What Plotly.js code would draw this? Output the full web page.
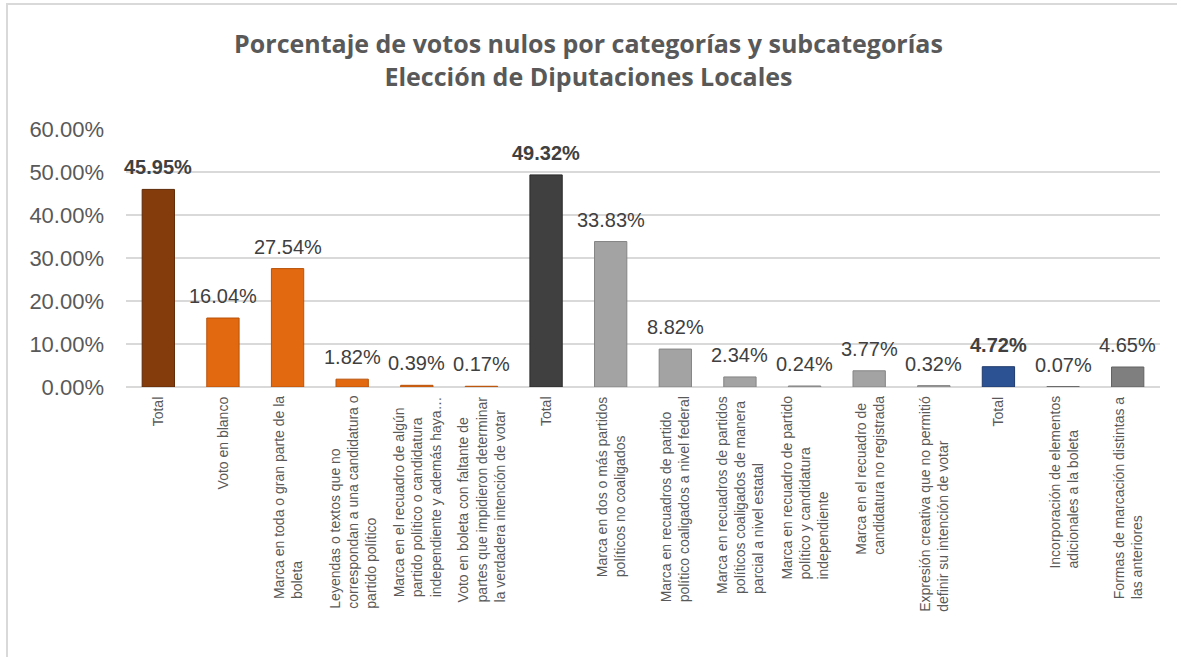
<!DOCTYPE html>
<html>
<head>
<meta charset="utf-8">
<script src="https://cdn.plot.ly/plotly-3.0.1.min.js"></script>
<style>
  html, body { margin: 0; padding: 0; background: #ffffff; }
  #wrap { position: relative; width: 1177px; height: 657px; }
  #chart { width: 1177px; height: 657px; }
  #frame { position: absolute; left: 6px; top: 3px; width: 1171px; height: 654px;
           border-left: 2px solid #d9d9d9; border-top: 2px solid #d9d9d9;
           pointer-events: none; box-sizing: border-box; }
</style>
</head>
<body>
<div id="wrap">
  <div id="chart"></div>
  <div id="frame"></div>
</div>
<script>
// ---- data ----
const categories = [
  "Total",
  "Voto en blanco",
  "Marca en toda o gran parte de la<br>boleta",
  "Leyendas o textos que no<br>correspondan a una candidatura o<br>partido político",
  "Marca en el recuadro de algún<br>partido político o candidatura<br>independiente y además haya…",
  "Voto en boleta con faltante de<br>partes que impidieron determinar<br>la verdadera intención de votar",
  "Total",
  "Marca en dos o más partidos<br>políticos no coaligados",
  "Marca en recuadros de partido<br>político coaligados a nivel federal",
  "Marca en recuadros de partidos<br>políticos coaligados de manera<br>parcial a nivel estatal",
  "Marca en recuadro de partido<br>político y candidatura<br>independiente",
  "Marca en el recuadro de<br>candidatura no registrada",
  "Expresión creativa que no permitió<br>definir su intención de votar",
  "Total",
  "Incorporación de elementos<br>adicionales a la boleta",
  "Formas de marcación distintas a<br>las anteriores"
];
const values = [45.95, 16.04, 27.54, 1.82, 0.39, 0.17, 49.32, 33.83, 8.82, 2.34, 0.24, 3.77, 0.32, 4.72, 0.07, 4.65];
const isTotal = [true, false, false, false, false, false, true, false, false, false, false, false, false, true, false, false];
const barColors = ["#843C0C", "#E2690F", "#E2690F", "#E2690F", "#E2690F", "#E2690F",
                   "#404040", "#A3A3A3", "#A3A3A3", "#A3A3A3", "#A3A3A3", "#A3A3A3", "#A3A3A3",
                   "#2D5293", "#7F7F7F", "#7F7F7F"];
const lineColors = ["#5E2a08", "#B8520A", "#B8520A", "#B8520A", "#B8520A", "#B8520A",
                    "#2a2a2a", "#858585", "#858585", "#858585", "#858585", "#858585", "#858585",
                    "#1F3A6B", "#636363", "#636363"];
const yTicks = [0, 10, 20, 30, 40, 50, 60];
const titleLines = ["Porcentaje de votos nulos por categorías y subcategorías", "Elección de Diputaciones Locales"];

// ---- build ----
const xs = categories.map((c, i) => i);

const trace = {
  type: "bar",
  x: xs,
  y: values,
  width: 0.5,
  marker: { color: barColors, line: { color: lineColors, width: 1 } },
  hoverinfo: "skip"
};

const annotations = [];
categories.forEach((c, i) => {
  annotations.push({
    x: xs[i], xref: "x", y: 0, yref: "paper",
    text: c, showarrow: false, textangle: -90,
    xanchor: "center", yanchor: "top", yshift: -7, align: "left",
    font: { family: "Liberation Sans, Arial, sans-serif", size: 14, color: "#595959" }
  });
});
values.forEach((v, i) => {
  const t = v.toFixed(2) + "%";
  annotations.push({
    x: xs[i], xref: "x", y: v, yref: "y",
    text: isTotal[i] ? "<b>" + t + "</b>" : t,
    showarrow: false, xanchor: "center", yanchor: "bottom", yshift: 9,
    font: { family: "Liberation Sans, Arial, sans-serif", size: 20, color: "#404040" }
  });
});

const layout = {
  width: 1177, height: 657,
  margin: { l: 126, r: 17, t: 129, b: 270, pad: 0 },
  paper_bgcolor: "#ffffff", plot_bgcolor: "#ffffff",
  showlegend: false,
  title: {
    text: titleLines.join("<br>"),
    font: { family: "Open Sans, sans-serif", size: 25, color: "#595959", weight: "bold" },
    x: 0.5, xref: "container", xanchor: "center",
    y: 1 - 53 / 657, yref: "container", yanchor: "top"
  },
  xaxis: {
    range: [-0.5, 15.5], showticklabels: false, showgrid: false, zeroline: false,
    showline: false, ticks: "", fixedrange: true
  },
  yaxis: {
    range: [0, 60], tickvals: yTicks, ticktext: yTicks.map(v => v.toFixed(2) + "%"),
    showgrid: true, gridcolor: "#d9d9d9", gridwidth: 1.3,
    zeroline: true, zerolinecolor: "#d9d9d9", zerolinewidth: 1.3,
    showline: false, ticks: "", ticklabelstandoff: 21,
    tickfont: { family: "Liberation Sans, Arial, sans-serif", size: 22, color: "#595959" },
    fixedrange: true
  },
  annotations: annotations,
  bargap: 0.5
};

Plotly.newPlot("chart", [trace], layout, { displayModeBar: false, staticPlot: true });
</script>
</body>
</html>
